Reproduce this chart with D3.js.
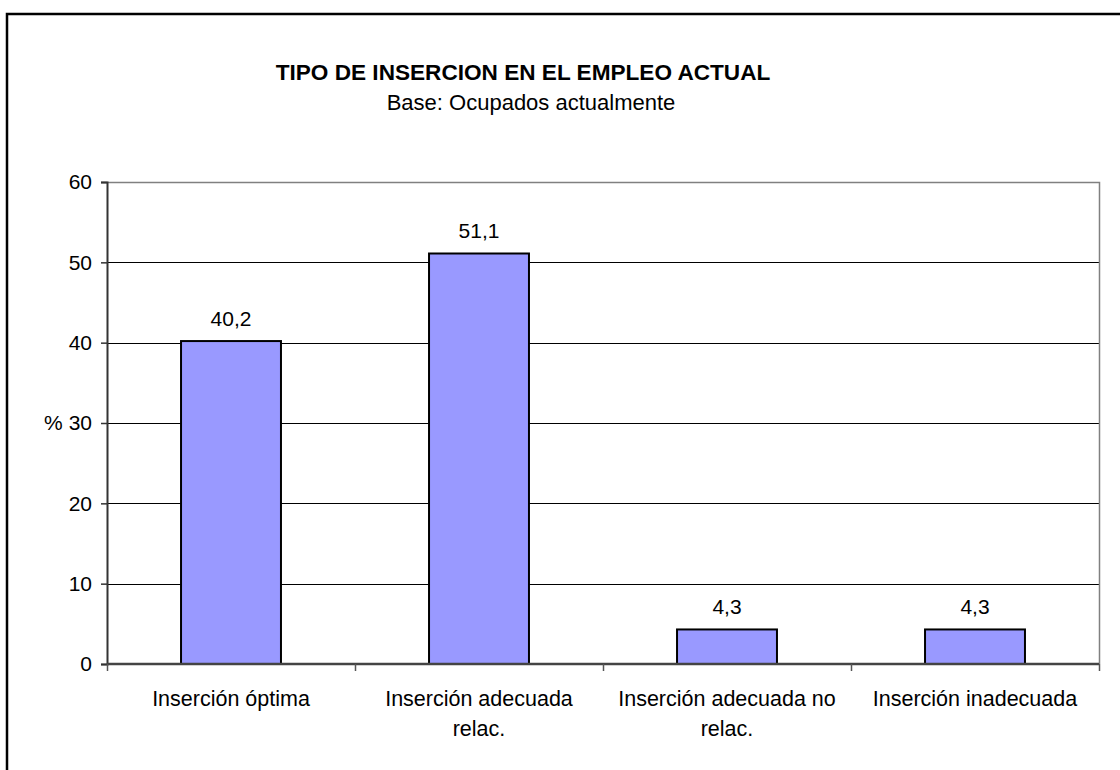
<!DOCTYPE html>
<html>
<head>
<meta charset="utf-8">
<script src="https://cdn.jsdelivr.net/npm/d3@7"></script>
<style>
  html, body { margin: 0; padding: 0; background: #fff; }
  svg text { font-family: "Liberation Sans", Arial, sans-serif; fill: #000; }
</style>
</head>
<body>
<svg id="chart" width="1120" height="770"></svg>
<script>
const categories = ["Inserción óptima", "Inserción adecuada relac.", "Inserción adecuada no relac.", "Inserción inadecuada"];
const values = [40.2, 51.1, 4.3, 4.3];
const valueLabels = ["40,2", "51,1", "4,3", "4,3"];
const yTicks = [0, 10, 20, 30, 40, 50, 60];
const titleText = "TIPO DE INSERCION EN EL EMPLEO ACTUAL";
const subtitleText = "Base: Ocupados actualmente";
const yAxisTitle = "%";

const svg = d3.select("#chart");
const W = 1120, H = 770;
const plot = { left: 107, right: 1099, top: 182, bottom: 664 };

svg.append("rect").attr("x", 0).attr("y", 0).attr("width", W).attr("height", H).attr("fill", "#fff");
// outer chart border (extends beyond the visible area on the right and bottom)
svg.append("rect").attr("x", 7).attr("y", 14).attr("width", 1300).attr("height", 1000)
  .attr("fill", "none").attr("stroke", "#000").attr("stroke-width", 2.5);

const x = d3.scaleBand().domain(categories).range([plot.left, plot.right]).paddingInner(0).paddingOuter(0);
const y = d3.scaleLinear().domain([0, 60]).range([plot.bottom, plot.top]);

// gridlines
svg.append("g").selectAll("line").data(yTicks.filter(t => t > 0 && t < 60)).join("line")
  .attr("x1", plot.left).attr("x2", plot.right)
  .attr("y1", d => Math.round(y(d)) + 0.5).attr("y2", d => Math.round(y(d)) + 0.5)
  .attr("stroke", "#000").attr("stroke-width", 1);

// plot area border (top & right in gray)
svg.append("path")
  .attr("d", `M${plot.left},${plot.top + 0.5}H${plot.right + 0.5}V${plot.bottom}`)
  .attr("fill", "none").attr("stroke", "#808080").attr("stroke-width", 1.5);

// bars
const bw = x.bandwidth() * 0.403;
svg.append("g").selectAll("rect").data(categories).join("rect")
  .attr("x", (d) => x(d) + (x.bandwidth() - bw) / 2)
  .attr("y", (d, i) => y(values[i]))
  .attr("width", bw)
  .attr("height", (d, i) => y(0) - y(values[i]))
  .attr("fill", "#9999FF").attr("stroke", "#000").attr("stroke-width", 2);

// data labels
svg.append("g").selectAll("text").data(categories).join("text")
  .attr("x", d => x(d) + x.bandwidth() / 2)
  .attr("y", (d, i) => y(values[i]) - 15)
  .attr("text-anchor", "middle").attr("font-size", 21)
  .text((d, i) => valueLabels[i]);

// y axis
const yAxis = d3.axisLeft(y).tickValues(yTicks).tickSize(6).tickPadding(9).tickFormat(d3.format("d"));
const gy = svg.append("g").attr("transform", `translate(${plot.left},0)`).call(yAxis);
gy.select(".domain").attr("stroke", "#333").attr("stroke-width", 2);
gy.selectAll(".tick line").attr("stroke", "#333").attr("stroke-width", 1.5);
gy.selectAll(".tick text").attr("font-size", 21).attr("font-family", "Liberation Sans, Arial, sans-serif").attr("fill", "#000");

// x axis
const xTickScale = d3.scaleLinear().domain([0, categories.length]).range([plot.left, plot.right]);
const gx = svg.append("g").attr("transform", `translate(0,${plot.bottom})`)
  .call(d3.axisBottom(xTickScale).tickValues(d3.range(categories.length + 1)).tickSize(7).tickFormat(""));
gx.select(".domain").attr("stroke", "#444").attr("stroke-width", 2.5).attr("d", `M${plot.left},0H${plot.right}`);
gx.selectAll(".tick line").attr("stroke", "#555").attr("stroke-width", 1.5);

// category labels with wrapping
const catG = svg.append("g");
categories.forEach((c, i) => {
  const t = catG.append("text").attr("x", x(c) + x.bandwidth() / 2).attr("y", 706)
    .attr("text-anchor", "middle").attr("font-size", 21.5);
  const words = c.split(" ");
  let line = [], lines = [];
  const probe = t.append("tspan");
  words.forEach(w => {
    const test = line.concat([w]).join(" ");
    probe.text(test);
    if (probe.node().getComputedTextLength() > 232 && line.length) {
      lines.push(line.join(" "));
      line = [w];
    } else line.push(w);
  });
  lines.push(line.join(" "));
  probe.remove();
  lines.forEach((l, j) => {
    t.append("tspan").attr("x", x(c) + x.bandwidth() / 2).attr("dy", j === 0 ? 0 : 30).text(l);
  });
});

// y axis title
svg.append("text").attr("x", 44).attr("y", y(30)).attr("dy", "0.35em")
  .attr("font-size", 21).text(yAxisTitle);

// titles
svg.append("text").attr("x", 523).attr("y", 80).attr("text-anchor", "middle")
  .attr("font-size", 22.6).attr("font-weight", "bold").text(titleText);
svg.append("text").attr("x", 531).attr("y", 110).attr("text-anchor", "middle")
  .attr("font-size", 22).text(subtitleText);
</script>
</body>
</html>
